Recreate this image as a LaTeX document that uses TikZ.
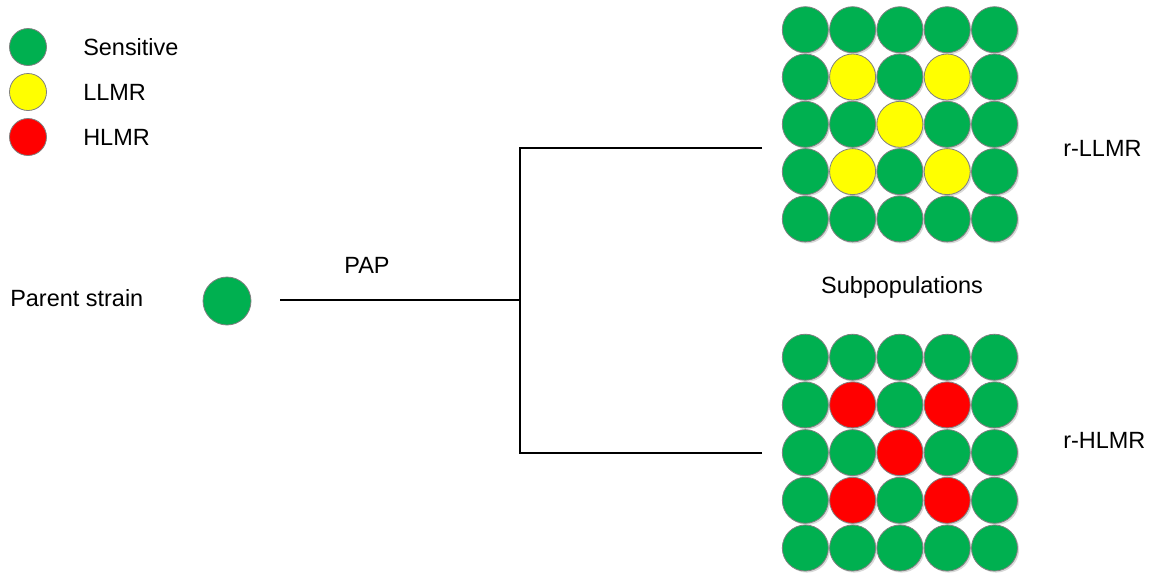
\documentclass[tikz,border=0pt]{standalone}
\usepackage{fontspec}
\setmainfont{Liberation Sans}
\usepackage{tikz}
\usetikzlibrary{shadows}
\definecolor{sensgreen}{HTML}{00B050}
\definecolor{llmryellow}{HTML}{FFFF00}
\definecolor{hlmrred}{HTML}{FF0000}
\tikzstyle{cell} = [circle, draw=gray, line width=0.6pt, minimum size=34.5pt, inner sep=0pt, drop shadow={shadow xshift=1.2pt, shadow yshift=-1.2pt, opacity=0.3}]
\tikzstyle{key} = [circle, draw=gray, line width=0.6pt, minimum size=27.75pt, inner sep=0pt]
\tikzstyle{label} = [font=\fontsize{17.6}{20}\selectfont, inner sep=0pt]
\tikzstyle{line} = [line width=0.9pt, black]

\begin{document}
\begin{tikzpicture}[x=0.75pt, y=-0.75pt]
  \useasboundingbox (0,0) rectangle (1156,575);

  % legend
  \node (kS) [key, fill=sensgreen] at (28,47) {};
  \node (kL) [key, fill=llmryellow] at (28,92) {};
  \node (kH) [key, fill=hlmrred] at (28,137) {};
  \node [label, anchor=west] at (83,47) {Sensitive};
  \node [label, anchor=west] at (83,92) {LLMR};
  \node [label, anchor=west] at (83,137) {HLMR};

  % parent strain
  \node (ptext) [label, anchor=west] at (10,298) {Parent strain};
  \node (parent) [key, fill=sensgreen, minimum size=36pt] at (227,301) {};
  \node (pap) [label] at (367,265) {PAP};

  % subpopulation grids
  \foreach \r in {1,...,5}
    \foreach \c in {1,...,5} {
      \pgfmathtruncatemacro{\hit}{(\r>1)&&(\r<5)&&(\c>1)&&(\c<5)&&(mod(\r+\c,2)==0)}
      \ifnum\hit=1
        \node (top-\r-\c) [cell, fill=llmryellow] at ({758+47.3*\c},{-17.6+47.3*\r}) {};
        \node (bot-\r-\c) [cell, fill=hlmrred] at ({758+47.3*\c},{309.5+47.7*\r}) {};
      \else
        \node (top-\r-\c) [cell, fill=sensgreen] at ({758+47.3*\c},{-17.6+47.3*\r}) {};
        \node (bot-\r-\c) [cell, fill=sensgreen] at ({758+47.3*\c},{309.5+47.7*\r}) {};
      \fi
    }

  \node (sub) [label] at (902,287) {Subpopulations};
  \node (rL) [label, anchor=west] at (1063,148) {r-LLMR};
  \node (rH) [label, anchor=west] at (1063,440) {r-HLMR};

  % tree
  \coordinate (start) at (280,300);
  \coordinate (fork) at (520,300);
  \coordinate (topin) at (762,148);
  \coordinate (botin) at (762,453);

  \draw [line] (start) -- (fork);
  \draw [line] (topin) -| (fork);
  \draw [line] (botin) -| (fork);
\end{tikzpicture}
\end{document}
